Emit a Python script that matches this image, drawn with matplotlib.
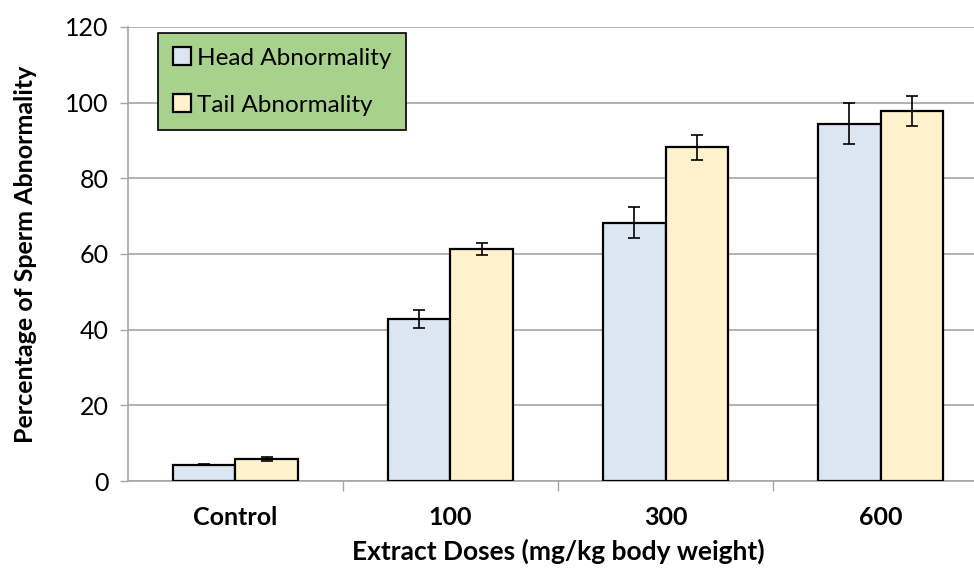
import matplotlib
matplotlib.use("Agg")
import matplotlib.pyplot as plt
import numpy as np

plt.rcParams['font.family'] = ['Lato', 'DejaVu Sans']

categories = ["Control", "100", "300", "600"]
head = [4.3, 42.8, 68.2, 94.4]
head_err = [0.2, 2.4, 4.1, 5.4]
tail = [5.9, 61.3, 88.2, 97.8]
tail_err = [0.5, 1.6, 3.3, 4.0]

fig = plt.figure(figsize=(9.74, 5.74), dpi=100)
# right edge of the plot area runs slightly past the figure, as in the original
ax = fig.add_axes([0.1314, 0.162, 0.883, 0.791])

x = np.arange(len(categories))
w = 0.29
ax.bar(x - w/2, head, w, color="#dce6f2", edgecolor="black", linewidth=1.6,
       yerr=head_err, capsize=4.5, error_kw=dict(elinewidth=1.2, capthick=1.2, ecolor="black"),
       label="Head Abnormality", zorder=3)
ax.bar(x + w/2, tail, w, color="#fff2cc", edgecolor="black", linewidth=1.6,
       yerr=tail_err, capsize=4.5, error_kw=dict(elinewidth=1.2, capthick=1.2, ecolor="black"),
       label="Tail Abnormality", zorder=3)

ax.set_xlim(-0.5, len(categories) - 0.5)
ax.set_ylim(0, 120)
ax.set_yticks(range(0, 121, 20))
ax.yaxis.grid(True, color="#a6a6a6", linewidth=1.2, zorder=0)
ax.set_axisbelow(True)

ax.set_xticks(x)
ax.set_xticklabels(categories, fontsize=18, fontweight="bold")
ax.set_xticks(np.arange(0.5, len(categories) - 0.5, 1), minor=True)
ax.tick_params(axis="x", which="major", length=0, pad=18)
ax.tick_params(axis="x", which="minor", length=7, color="#a6a6a6", width=1)
ax.tick_params(axis="y", labelsize=18, length=6, color="#a6a6a6", width=1, pad=8)

for s in ["top", "right"]:
    ax.spines[s].set_visible(False)
for s in ["left", "bottom"]:
    ax.spines[s].set_color("#a6a6a6")
    ax.spines[s].set_linewidth(1.2)

ax.set_xlabel("Extract Doses (mg/kg body weight)", fontsize=19, fontweight="bold", labelpad=7)
ax.set_ylabel("Percentage of Sperm Abnormality", fontsize=18, fontweight="bold", labelpad=20)

leg = ax.legend(loc="upper left", bbox_to_anchor=(0.035, 0.987), borderaxespad=0,
                fontsize=17.5, frameon=True, fancybox=False,
                handlelength=0.75, handleheight=0.75,
                handletextpad=0.25, labelspacing=1.05, borderpad=0.6)
leg.get_frame().set_facecolor("#a9d18e")
leg.get_frame().set_edgecolor("black")
leg.get_frame().set_linewidth(1.2)
leg.get_frame().set_alpha(1)

fig.savefig("out.png", dpi=100)
